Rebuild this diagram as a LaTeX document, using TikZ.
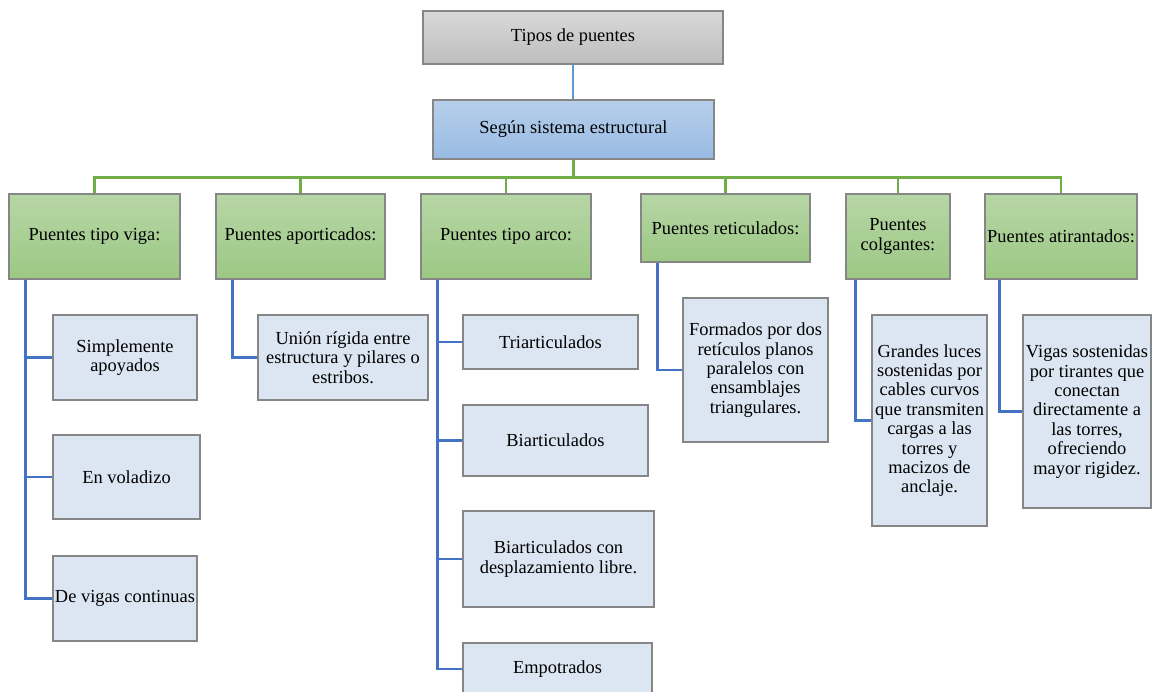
\documentclass[tikz,border=0pt]{standalone}
\usepackage{fontspec}
\setmainfont{Liberation Serif}
\usepackage{xcolor}
\usepackage{tikz}
\usetikzlibrary{calc}
\definecolor{frame}{HTML}{868686}
\definecolor{greytop}{HTML}{D9D9D9}
\definecolor{greybot}{HTML}{BDBDBD}
\definecolor{bluetop}{HTML}{B7CFEB}
\definecolor{bluebot}{HTML}{98BBE3}
\definecolor{greentop}{HTML}{B7D6A6}
\definecolor{greenbot}{HTML}{9CC884}
\definecolor{notefill}{HTML}{DCE6F2}
\definecolor{linkblue}{HTML}{5B9BD5}
\definecolor{busgreen}{HTML}{70AD47}
\definecolor{branchblue}{HTML}{4472C4}
\tikzset{
    basebox/.style={draw=frame,line width=0.65pt,inner xsep=1pt,inner ysep=1pt,
      align=center,text=black},
    rootbox/.style={basebox,top color=greytop,bottom color=greybot},
    sortbox/.style={basebox,top color=bluetop,bottom color=bluebot},
    typebox/.style={basebox,top color=greentop,bottom color=greenbot},
    notebox/.style={basebox,fill=notefill},
    linkline/.style={draw=linkblue,line width=1.1pt},
    busline/.style={draw=busgreen,line width=1.2pt},
    branchline/.style={draw=branchblue,line width=1.4pt}
}
\begin{document}
\begin{tikzpicture}[x=0.5pt,y=-0.5pt,font=\fontsize{9.2}{9.7}\selectfont]
    \useasboundingbox (0,0) rectangle (1159,691);
    \node[rootbox,minimum width=150pt,minimum height=26.5pt] (tipos) at (573,37.5) {Tipos de puentes};
    \node[sortbox,minimum width=140.5pt,minimum height=29.5pt] (segun) at (573.5,129.5) {Según sistema estructural};
    \node[typebox,minimum width=85.5pt,minimum height=42.5pt] (viga) at (94.5,236.5) {Puentes tipo viga:};
    \node[typebox,minimum width=84.5pt,minimum height=42.5pt] (aport) at (300.5,236.5) {Puentes aporticados:};
    \node[typebox,minimum width=85pt,minimum height=42.5pt] (arco) at (506,236.5) {Puentes tipo arco:};
    \node[typebox,minimum width=84.5pt,minimum height=34pt] (retic) at (725.5,228) {Puentes reticulados:};
    \node[typebox,minimum width=52pt,minimum height=42.5pt] (colg) at (898,236.5) {Puentes\\colgantes:};
    \node[typebox,minimum width=76pt,minimum height=42.5pt] (atir) at (1061,236.5) {Puentes atirantados:};
    \node[notebox,minimum width=72pt,minimum height=42.5pt] (simple) at (125,357.5) {Simplemente\\apoyados};
    \node[notebox,minimum width=73.5pt,minimum height=42pt] (volad) at (126.5,477) {En voladizo};
    \node[notebox,minimum width=72pt,minimum height=42.5pt] (contin) at (125,598.5) {De vigas continuas};
    \node[notebox,minimum width=85pt,minimum height=42.5pt] (union) at (343,357.5) {Unión rígida entre\\estructura y pilares o\\estribos.};
    \node[notebox,minimum width=87.5pt,minimum height=27pt] (triart) at (550.5,342) {Triarticulados};
    \node[notebox,minimum width=92.5pt,minimum height=35.5pt] (biart) at (555.5,440.5) {Biarticulados};
    \node[notebox,minimum width=95.5pt,minimum height=48pt] (biartcon) at (558.5,559) {Biarticulados con\\desplazamiento libre.};
    \node[notebox,minimum width=94.5pt,minimum height=26pt] (empot) at (557.5,669) {Empotrados};
    \node[notebox,minimum width=72.5pt,minimum height=72pt] (formados) at (755.5,370) {Formados por dos\\retículos planos\\paralelos con\\ensamblajes\\triangulares.};
    \node[notebox,minimum width=57.5pt,minimum height=105.5pt] (grandes) at (929.5,420.5) {Grandes luces\\sostenidas por\\cables curvos\\que transmiten\\cargas a las\\torres y\\macizos de\\anclaje.};
    \node[notebox,minimum width=64pt,minimum height=96.5pt] (vigas) at (1087,411.5) {Vigas sostenidas\\por tirantes que\\conectan\\directamente a\\las torres,\\ofreciendo\\mayor rigidez.};
    \draw[linkline] (tipos.south) -- (tipos.south |- segun.north);
    \foreach \g in {viga,aport,arco,retic,colg,atir}
      \draw[busline] (segun.south) -- ++(0,18) -| (\g.north);
    \foreach \p/\c in {viga/simple,viga/volad,viga/contin,aport/union,arco/triart,arco/biart,
      arco/biartcon,arco/empot,retic/formados,colg/grandes,atir/vigas}
      \draw[branchline] ($(\p.south west)!0.1!(\p.south east)$) |- (\c.west);
\end{tikzpicture}
\end{document}
